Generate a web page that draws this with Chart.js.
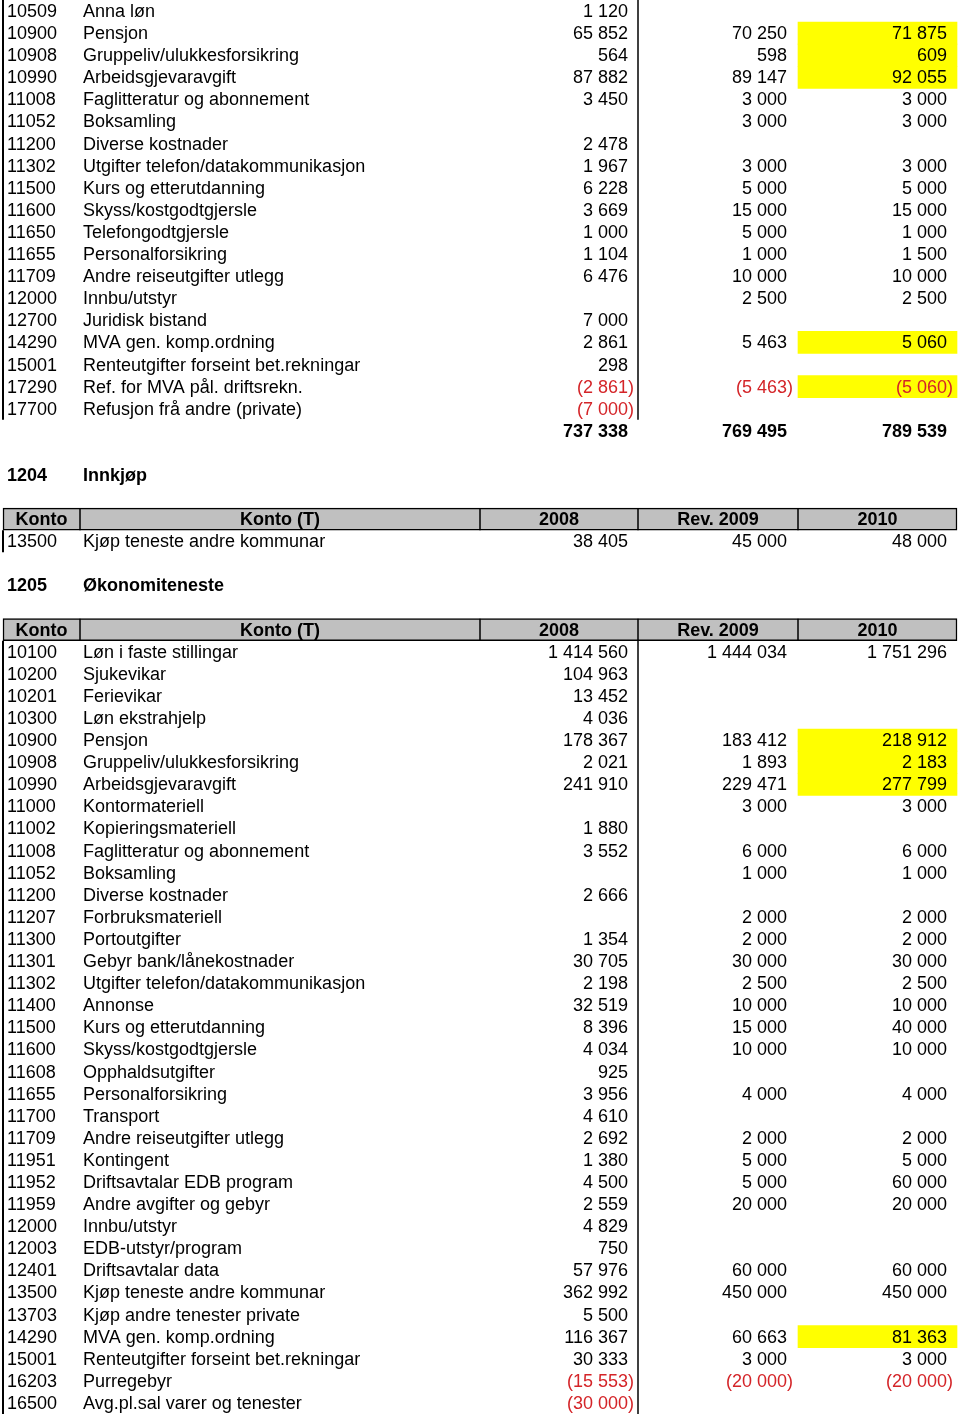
<!DOCTYPE html>
<html>
<head>
<meta charset="utf-8">
<script src="https://cdn.jsdelivr.net/npm/chart.js@4.4.1/dist/chart.umd.min.js"></script>
<style>
  html, body { margin: 0; padding: 0; background: #fff; }
  #wrap { width: 960px; height: 1418px; }
</style>
</head>
<body>
<div id="wrap"><canvas id="sheet" width="960" height="1418"></canvas></div>
<script>
// --- Data ---
const headers = ['Konto', 'Konto (T)', '2008', 'Rev. 2009', '2010'];

// section 1203 (continued from previous page)
const codesA = ['10509', '10900', '10908', '10990', '11008', '11052', '11200', '11302', '11500', '11600',
  '11650', '11655', '11709', '12000', '12700', '14290', '15001', '17290', '17700'];
const namesA = ['Anna løn', 'Pensjon', 'Gruppeliv/ulukkesforsikring', 'Arbeidsgjevaravgift',
  'Faglitteratur og abonnement', 'Boksamling', 'Diverse kostnader', 'Utgifter telefon/datakommunikasjon',
  'Kurs og etterutdanning', 'Skyss/kostgodtgjersle', 'Telefongodtgjersle', 'Personalforsikring',
  'Andre reiseutgifter utlegg', 'Innbu/utstyr', 'Juridisk bistand', 'MVA gen. komp.ordning',
  'Renteutgifter forseint bet.rekningar', 'Ref. for MVA pål. driftsrekn.', 'Refusjon frå andre (private)'];
const v2008A = [1120, 65852, 564, 87882, 3450, null, 2478, 1967, 6228, 3669, 1000, 1104, 6476, null, 7000, 2861, 298, -2861, -7000];
const v2009A = [null, 70250, 598, 89147, 3000, 3000, null, 3000, 5000, 15000, 5000, 1000, 10000, 2500, null, 5463, null, -5463, null];
const v2010A = [null, 71875, 609, 92055, 3000, 3000, null, 3000, 5000, 15000, 1000, 1500, 10000, 2500, null, 5060, null, -5060, null];
const markedA = ['10900', '10908', '10990', '14290', '17290'];
const totalsA = [737338, 769495, 789539];

// section 1204
const titleB = ['1204', 'Innkjøp'];
const codesB = ['13500'];
const namesB = ['Kjøp teneste andre kommunar'];
const v2008B = [38405];
const v2009B = [45000];
const v2010B = [48000];

// section 1205
const titleC = ['1205', 'Økonomiteneste'];
const codesC = ['10100', '10200', '10201', '10300', '10900', '10908', '10990', '11000', '11002', '11008',
  '11052', '11200', '11207', '11300', '11301', '11302', '11400', '11500', '11600', '11608',
  '11655', '11700', '11709', '11951', '11952', '11959', '12000', '12003', '12401', '13500',
  '13703', '14290', '15001', '16203', '16500'];
const namesC = ['Løn i faste stillingar', 'Sjukevikar', 'Ferievikar', 'Løn ekstrahjelp', 'Pensjon',
  'Gruppeliv/ulukkesforsikring', 'Arbeidsgjevaravgift', 'Kontormateriell', 'Kopieringsmateriell',
  'Faglitteratur og abonnement', 'Boksamling', 'Diverse kostnader', 'Forbruksmateriell', 'Portoutgifter',
  'Gebyr bank/lånekostnader', 'Utgifter telefon/datakommunikasjon', 'Annonse', 'Kurs og etterutdanning',
  'Skyss/kostgodtgjersle', 'Opphaldsutgifter', 'Personalforsikring', 'Transport', 'Andre reiseutgifter utlegg',
  'Kontingent', 'Driftsavtalar EDB program', 'Andre avgifter og gebyr', 'Innbu/utstyr', 'EDB-utstyr/program',
  'Driftsavtalar data', 'Kjøp teneste andre kommunar', 'Kjøp andre tenester private', 'MVA gen. komp.ordning',
  'Renteutgifter forseint bet.rekningar', 'Purregebyr', 'Avg.pl.sal varer og tenester'];
const v2008C = [1414560, 104963, 13452, 4036, 178367, 2021, 241910, null, 1880, 3552,
  null, 2666, null, 1354, 30705, 2198, 32519, 8396, 4034, 925,
  3956, 4610, 2692, 1380, 4500, 2559, 4829, 750, 57976, 362992,
  5500, 116367, 30333, -15553, -30000];
const v2009C = [1444034, null, null, null, 183412, 1893, 229471, 3000, null, 6000,
  1000, null, 2000, 2000, 30000, 2500, 10000, 15000, 10000, null,
  4000, null, 2000, 5000, 5000, 20000, null, null, 60000, 450000,
  null, 60663, 3000, -20000, null];
const v2010C = [1751296, null, null, null, 218912, 2183, 277799, 3000, null, 6000,
  1000, null, 2000, 2000, 30000, 2500, 10000, 40000, 10000, null,
  4000, null, 2000, 5000, 60000, 20000, null, null, 60000, 450000,
  null, 81363, 3000, -20000, null];
const markedC = ['10900', '10908', '10990', '14290'];

// --- Build row list ---
const rows = [];
function addAccounts(codes, names, a, b, c, marked) {
  codes.forEach((code, i) => {
    rows.push({ kind: 'data', code: code, name: names[i], vals: [a[i], b[i], c[i]], mark: marked.includes(code) });
  });
}
addAccounts(codesA, namesA, v2008A, v2009A, v2010A, markedA);
rows.push({ kind: 'total', vals: totalsA });
rows.push({ kind: 'blank' });
rows.push({ kind: 'title', code: titleB[0], name: titleB[1] });
rows.push({ kind: 'blank' });
rows.push({ kind: 'header' });
addAccounts(codesB, namesB, v2008B, v2009B, v2010B, []);
rows.push({ kind: 'blank' });
rows.push({ kind: 'title', code: titleC[0], name: titleC[1] });
rows.push({ kind: 'blank' });
rows.push({ kind: 'header' });
addAccounts(codesC, namesC, v2008C, v2009C, v2010C, markedC);

// --- Layout (x in sheet units, mapped through the x scale) ---
const colEdges = [3, 80, 480, 638, 798, 957];
const numRight = [628, 787, 947];
const RED = 'rgb(212, 36, 40)';
const FONT = '"Liberation Sans", Arial, sans-serif';

function fmt(v) {
  const s = String(Math.abs(v));
  return s.replace(/\B(?=(\d{3})+(?!\d))/g, ' ');
}

const tablePlugin = {
  id: 'tableText',
  afterDatasetsDraw(chart) {
    const ctx = chart.ctx;
    const xs = chart.scales.x;
    const ys = chart.scales.y;
    const X = v => xs.getPixelForValue(v);
    const half = (ys.getPixelForValue(1) - ys.getPixelForValue(0)) / 2;
    ctx.save();
    ctx.textBaseline = 'middle';

    rows.forEach((r, i) => {
      const y = ys.getPixelForValue(i) + 1;
      if (r.kind === 'data') {
        ctx.font = '18px ' + FONT;
        ctx.fillStyle = '#000';
        ctx.textAlign = 'left';
        ctx.fillText(r.code, X(7), y);
        ctx.fillText(r.name, X(83), y);
        r.vals.forEach((v, k) => {
          if (v === null) return;
          if (v < 0) {
            ctx.fillStyle = RED;
            ctx.textAlign = 'right';
            ctx.fillText('(' + fmt(v), X(numRight[k]), y);
            ctx.textAlign = 'left';
            ctx.fillText(')', X(numRight[k]), y);
          } else {
            ctx.fillStyle = '#000';
            ctx.textAlign = 'right';
            ctx.fillText(fmt(v), X(numRight[k]), y);
          }
        });
      } else if (r.kind === 'total') {
        ctx.font = 'bold 18px ' + FONT;
        ctx.fillStyle = '#000';
        ctx.textAlign = 'right';
        r.vals.forEach((v, k) => ctx.fillText(fmt(v), X(numRight[k]), y));
      } else if (r.kind === 'title') {
        ctx.font = 'bold 18px ' + FONT;
        ctx.fillStyle = '#000';
        ctx.textAlign = 'left';
        ctx.fillText(r.code, X(7), y);
        ctx.fillText(r.name, X(83), y);
      } else if (r.kind === 'header') {
        const top = ys.getPixelForValue(i) - half;
        ctx.strokeStyle = '#000';
        ctx.lineWidth = 1.5;
        for (let k = 1; k < colEdges.length - 1; k++) {
          ctx.beginPath();
          ctx.moveTo(X(colEdges[k]), top);
          ctx.lineTo(X(colEdges[k]), top + 2 * half);
          ctx.stroke();
        }
        ctx.font = 'bold 18px ' + FONT;
        ctx.fillStyle = '#000';
        ctx.textAlign = 'center';
        headers.forEach((h, k) => {
          ctx.fillText(h, (X(colEdges[k]) + X(colEdges[k + 1])) / 2, y);
        });
      }
    });

    // left border and 2008 divider along each run of account rows
    let start = null;
    rows.forEach((r, i) => {
      const isData = r.kind === 'data';
      if (isData && start === null) start = i;
      const next = rows[i + 1];
      if (start !== null && (!next || next.kind !== 'data')) {
        const top = ys.getPixelForValue(start) - half;
        const bottom = ys.getPixelForValue(i) + half;
        ctx.strokeStyle = '#000';
        ctx.lineWidth = 2;
        ctx.beginPath();
        ctx.moveTo(X(3), top);
        ctx.lineTo(X(3), bottom);
        ctx.stroke();
        if (i - start > 0) {
          ctx.lineWidth = 1.5;
          ctx.beginPath();
          ctx.moveTo(X(colEdges[3]), top);
          ctx.lineTo(X(colEdges[3]), bottom);
          ctx.stroke();
        }
        start = null;
      }
    });
    ctx.restore();
  }
};

new Chart(document.getElementById('sheet'), {
  type: 'bar',
  data: {
    labels: rows.map((r, i) => String(i)),
    datasets: [
      {
        label: 'highlight',
        data: rows.map(r => (r.kind === 'data' && r.mark) ? [colEdges[4], colEdges[5]] : null),
        backgroundColor: '#ffff00',
        borderWidth: 0,
        barPercentage: 1,
        categoryPercentage: 1,
        grouped: false
      },
      {
        label: 'header',
        data: rows.map(r => r.kind === 'header' ? [colEdges[0], colEdges[5]] : null),
        backgroundColor: '#c0c0c0',
        borderColor: '#000',
        borderWidth: 1.5,
        borderSkipped: false,
        barPercentage: 1,
        categoryPercentage: 1,
        grouped: false
      }
    ]
  },
  options: {
    indexAxis: 'y',
    responsive: false,
    animation: false,
    layout: { padding: { top: 0, bottom: 4, left: 0, right: 0 } },
    scales: {
      x: { type: 'linear', min: 0, max: 960, display: false },
      y: { display: false, offset: true }
    },
    plugins: {
      legend: { display: false },
      tooltip: { enabled: false }
    }
  },
  plugins: [tablePlugin]
});
</script>
</body>
</html>
